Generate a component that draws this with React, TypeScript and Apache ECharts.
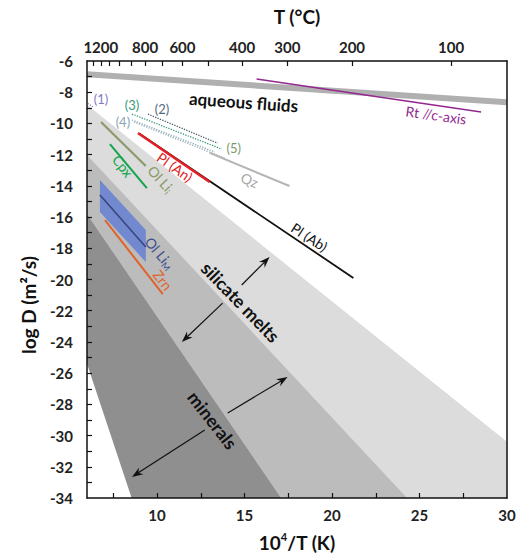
import React, { useEffect, useRef } from "react";
import * as echarts from "echarts";

// Axis extents and tick values
const X_RANGE = [6, 30];
const Y_RANGE = [-34, -6];
const bottomTickValues = [7.5, 10, 12.5, 15, 17.5, 20, 22.5, 25, 27.5];
const bottomLabelValues = [10, 15, 20, 25, 30];
const leftTickValues = [-33, -32, -31, -30, -29, -28, -27, -26, -25, -24, -23, -22, -21, -20, -19, -18, -17, -16, -15, -14, -13, -12, -11, -10, -9, -8, -7];
const leftLabelValues = [-34, -32, -30, -28, -26, -24, -22, -20, -18, -16, -14, -12, -10, -8, -6];
const topTickTemps = [1300, 1200, 1100, 1000, 900, 800, 700, 600, 500, 400, 300, 200, 100];
const topLabelTemps = [1200, 800, 600, 400, 300, 200, 100];

// Shaded fields (10^4/T, log D)
const mineralsField = [[6, -15.8], [17.1, -34], [8.55, -34], [6, -25.4]];
const meltsLowerField = [[6, -12], [24.3, -34], [17.1, -34], [6, -15.8]];
const meltsUpperField = [[6, -8.8], [30, -30.4], [30, -34], [24.3, -34], [6, -12]];
const olLiMBand = [[6.74, -13.62], [9.36, -16.83], [9.36, -18.88], [6.74, -15.68]];

// Diffusion lines
const aqueousFluids = [[6, -6.85], [30, -8.65]];
const rutile = [[15.69, -7.15], [28.52, -9.27]];
const dotted1 = [[6.05, -8.72], [6.35, -8.95]];
const dotted2 = [[9.48, -9.4], [13.47, -11.27]];
const dotted3 = [[8.57, -9.4], [13.7, -11.64]];
const dotted4 = [[8.57, -9.78], [13.3, -11.83]];
const dotted5 = [[8.68, -9.91], [13.87, -12.22]];
const quartz = [[13.01, -11.89], [17.57, -14.01]];
const plAb = [[9.02, -10.68], [21.22, -19.9]];
const plAn = [[8.91, -10.61], [13.01, -13.75]];
const olLiI = [[6.8, -9.91], [9.36, -12.73]];
const cpx = [[7.31, -11.32], [9.42, -14.14]];
const olLiM = [[6.74, -14.59], [9.36, -17.92]];
const zircon = [[7.03, -16.19], [10.33, -20.93]];

// Double arrows (each half: from -> tip)
const arrows = [
  [[14.84, -20.35], [16.43, -18.56]],
  [[13.75, -21.51], [11.42, -24.0]],
  [[14.04, -28.55], [17.46, -26.25]],
  [[12.73, -29.64], [8.57, -32.65]],
];

// Annotations
const annotations = [
  { text: "aqueous fluids", at: [14.95, -8.63], rot: -4, color: "#111", size: 17, bold: true },
  { text: "Rt //c-axis", at: [25.95, -9.46], rot: -8, color: "#93278f", size: 14, bold: false },
  { text: "(1)", at: [6.8, -8.43], rot: 0, color: "#8479c0", size: 13, bold: false },
  { text: "(3)", at: [8.57, -8.82], rot: 0, color: "#3a9a78", size: 13, bold: false },
  { text: "(2)", at: [10.28, -9.08], rot: 0, color: "#55687a", size: 13, bold: false },
  { text: "(4)", at: [8.05, -9.91], rot: 0, color: "#8aa4b4", size: 13, bold: false },
  { text: "(5)", at: [14.38, -11.57], rot: 0, color: "#7a9a6e", size: 13, bold: false },
  { text: "Qz", at: [15.29, -13.62], rot: -22, color: "#a8a8a8", size: 14, bold: false },
  { text: "Pl (An)", at: [11.02, -12.79], rot: -35, color: "#e31e24", size: 14, bold: false },
  { text: "Pl (Ab)", at: [18.71, -17.28], rot: -33, color: "#111", size: 14, bold: false },
  { text: "Ol Li{s|i}", at: [10.22, -13.56], rot: -47, color: "#8a9a68", size: 14, bold: false },
  { text: "Cpx", at: [8.05, -12.73], rot: -52, color: "#13a54b", size: 14, bold: false },
  { text: "Ol Li{s|M}", at: [10.16, -18.3], rot: -50, color: "#3d4f8f", size: 14, bold: false },
  { text: "Zrn", at: [10.33, -20.03], rot: -52, color: "#e1632b", size: 14, bold: false },
  { text: "silicate melts", at: [14.78, -21.44], rot: -46, color: "#111", size: 18, bold: true },
  { text: "minerals", at: [13.18, -29.0], rot: -52, color: "#111", size: 18, bold: true },
];

const FONT = "Lato, 'Open Sans', sans-serif";

const toX = (t: number) => 1e4 / (t + 273);

function lineSeries(data: number[][], color: string, width: number, type: string = "solid", z = 5) {
  return {
    type: "line",
    data,
    symbol: "none",
    silent: true,
    z,
    lineStyle: { color, width, type, cap: "butt" },
  };
}

function polygonSeries(points: number[][], color: string, opacity = 1, z = 1) {
  return {
    type: "custom",
    silent: true,
    z,
    data: [points[0]],
    renderItem: (_params: any, api: any) => ({
      type: "polygon",
      shape: { points: points.map((p) => api.coord(p)) },
      style: { fill: color, opacity },
    }),
  };
}

export default function App() {
  const ref = useRef<HTMLDivElement>(null);
  useEffect(() => {
    if (!ref.current) return;
    const chart = echarts.init(ref.current, null, { renderer: "svg" });
    const axisLabelStyle = { color: "#222", fontSize: 15, fontWeight: "bold", fontFamily: FONT };
    const option: any = {
      animation: false,
      backgroundColor: "#fff",
      grid: { left: 87, right: 21, top: 61, bottom: 59 },
      xAxis: [
        {
          type: "value",
          min: X_RANGE[0],
          max: X_RANGE[1],
          position: "bottom",
          z: 10,
          splitLine: { show: false },
          axisLine: { show: true, lineStyle: { color: "#111", width: 1.5 } },
          axisTick: { show: true, inside: true, length: 5, customValues: bottomTickValues, lineStyle: { color: "#111", width: 1.2 } },
          axisLabel: { ...axisLabelStyle, margin: 9, customValues: bottomLabelValues },
        },
        {
          type: "value",
          min: X_RANGE[0],
          max: X_RANGE[1],
          position: "top",
          z: 10,
          splitLine: { show: false },
          axisLine: { show: true, lineStyle: { color: "#111", width: 1.5 } },
          axisTick: { show: true, inside: true, length: 5, customValues: topTickTemps.map(toX), lineStyle: { color: "#111", width: 1.2 } },
          axisLabel: {
            ...axisLabelStyle,
            margin: 7,
            customValues: topLabelTemps.map(toX),
            formatter: (v: number) => String(Math.round((1e4 / v - 273) / 10) * 10),
          },
        },
      ],
      yAxis: [
        {
          type: "value",
          min: Y_RANGE[0],
          max: Y_RANGE[1],
          position: "left",
          z: 10,
          splitLine: { show: false },
          axisLine: { show: true, lineStyle: { color: "#111", width: 1.5 } },
          axisTick: { show: true, inside: true, length: 5, customValues: leftTickValues, lineStyle: { color: "#111", width: 1.2 } },
          axisLabel: { ...axisLabelStyle, margin: 14, customValues: leftLabelValues },
        },
        {
          type: "value",
          min: Y_RANGE[0],
          max: Y_RANGE[1],
          position: "right",
          z: 10,
          splitLine: { show: false },
          axisLine: { show: true, lineStyle: { color: "#111", width: 1.5 } },
          axisTick: { show: false },
          axisLabel: { show: false },
        },
      ],
      graphic: [
        {
          type: "text",
          x: 297,
          y: 16,
          style: { text: "T (°C)", fill: "#111", fontSize: 19, fontWeight: "bold", fontFamily: FONT, align: "center", verticalAlign: "middle" },
        },
        {
          type: "text",
          x: 297,
          y: 542,
          style: {
            text: "10{sup|4}/T (K)",
            fill: "#111",
            fontSize: 19,
            fontWeight: "bold",
            fontFamily: FONT,
            align: "center",
            verticalAlign: "middle",
            rich: { sup: { fontSize: 11, fontWeight: "bold", fontFamily: FONT, fill: "#111", verticalAlign: "top", lineHeight: 22 } },
          },
        },
        {
          type: "text",
          x: 28,
          y: 305,
          rotation: Math.PI / 2,
          style: { text: "log D (m²/s)", fill: "#111", fontSize: 19, fontWeight: "bold", fontFamily: FONT, align: "center", verticalAlign: "middle" },
        },
      ],
      series: [
        polygonSeries(meltsUpperField, "#dcdcdc", 1, 1),
        polygonSeries(meltsLowerField, "#bbbcbb", 1, 1),
        polygonSeries(mineralsField, "#8f8f8f", 1, 1),
        lineSeries(aqueousFluids, "#b0b0b0", 6, "solid", 3),
        lineSeries(rutile, "#93278f", 1.6),
        lineSeries(dotted1, "#8479c0", 1.2, "dotted"),
        lineSeries(dotted2, "#4f6070", 1.3, "dotted"),
        lineSeries(dotted3, "#3a9a78", 1.3, "dotted"),
        lineSeries(dotted4, "#8eaabb", 1.3, "dotted"),
        lineSeries(dotted5, "#9ab0b8", 1.3, "dotted"),
        lineSeries(quartz, "#b5b5b5", 2),
        lineSeries(plAb, "#111", 1.8),
        lineSeries(plAn, "#e31e24", 2.6, "solid", 6),
        lineSeries(olLiI, "#8c9a6b", 2.2),
        lineSeries(cpx, "#13a54b", 2),
        polygonSeries(olLiMBand, "#6b83d0", 0.92, 4),
        lineSeries(olLiM, "#36457a", 1.5, "solid", 6),
        lineSeries(zircon, "#e1632b", 2),
        {
          type: "custom",
          silent: true,
          z: 7,
          data: arrows.map((a) => a[0]),
          renderItem: (params: any, api: any) => {
            const [from, to] = arrows[params.dataIndex];
            const p0 = api.coord(from);
            const p1 = api.coord(to);
            const dx = p1[0] - p0[0];
            const dy = p1[1] - p0[1];
            const len = Math.hypot(dx, dy);
            const ux = dx / len;
            const uy = dy / len;
            const L = 11, W = 4, N = 7.5;
            const base = [p1[0] - ux * L, p1[1] - uy * L];
            const left = [base[0] - uy * W, base[1] + ux * W];
            const right = [base[0] + uy * W, base[1] - ux * W];
            const notch = [p1[0] - ux * N, p1[1] - uy * N];
            return {
              type: "group",
              children: [
                { type: "line", shape: { x1: p0[0], y1: p0[1], x2: notch[0], y2: notch[1] }, style: { stroke: "#111", lineWidth: 1.2 } },
                { type: "polygon", shape: { points: [p1, left, notch, right] }, style: { fill: "#111" } },
              ],
            };
          },
        },
        {
          type: "custom",
          silent: true,
          z: 8,
          data: annotations.map((a) => a.at),
          renderItem: (params: any, api: any) => {
            const a = annotations[params.dataIndex];
            const p = api.coord(a.at);
            return {
              type: "text",
              x: p[0],
              y: p[1],
              rotation: (a.rot * Math.PI) / 180,
              style: {
                text: a.text,
                fill: a.color,
                fontSize: a.size,
                fontWeight: a.bold ? "bold" : "normal",
                fontFamily: FONT,
                align: "center",
                verticalAlign: "middle",
                rich: { s: { fontSize: 9, fill: a.color, fontFamily: FONT, verticalAlign: "bottom", lineHeight: 17 } },
              },
            };
          },
        },
      ],
    };
    chart.setOption(option);
    return () => chart.dispose();
  }, []);
  return <div ref={ref} style={{ position: "fixed", left: 0, top: 0, width: 528, height: 557 }} />;
}
